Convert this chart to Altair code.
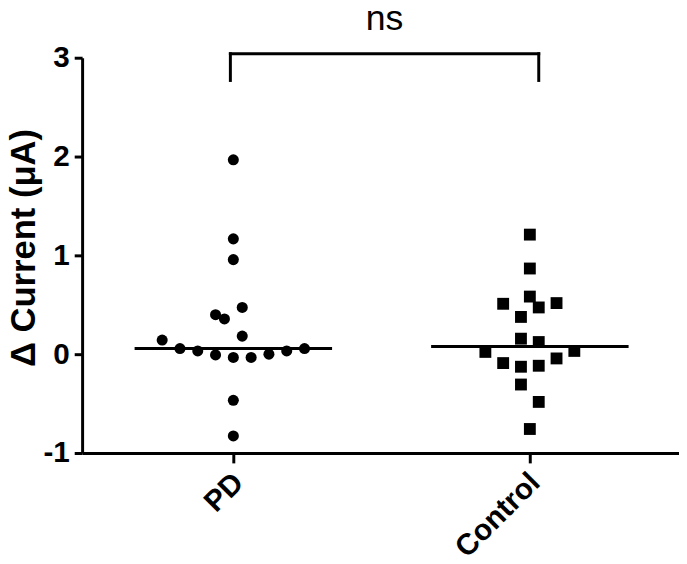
import altair as alt
import pandas as pd

# ---- data ----
groups = ["PD", "Control"]
pd_values = [1.967, 1.167, 0.957, 0.473, 0.40, 0.357, 0.183, 0.143, 0.057,
             0.033, -0.007, -0.033, -0.033, 0.0, 0.033, 0.057, -0.467, -0.827]
pd_cols = [0, 0, 0, 0.5, -1, -0.5, 0.5, -4, -3, -2, -1, 0, 1, 2, 3, 4, 0, 0]
ctrl_values = [1.21, 0.867, 0.583, 0.51, 0.473, 0.517, 0.377, 0.157, 0.123,
               0.023, 0.033, -0.09, -0.127, -0.117, -0.043, -0.307, -0.483, -0.757]
ctrl_cols = [0, 0, 0, -1.5, 0.5, 1.5, -0.5, -0.5, 0.5, -2.5, 2.5, -1.5, -0.5,
             0.5, 1.5, -0.5, 0.5, 0]
y_ticks = [-1, 0, 1, 2, 3]
sig_label = "ns"
y_title = "Δ Current (μA)"

FONT = "Liberation Sans"
COL_STEP = 0.06  # swarm column spacing in category units

df = pd.DataFrame({
    "gi": [0] * len(pd_values) + [1] * len(ctrl_values),
    "value": pd_values + ctrl_values,
    "col": pd_cols + ctrl_cols,
})

xs = alt.Scale(domain=[-0.51, 1.503], nice=False, zero=False)
ys = alt.Scale(domain=[y_ticks[0], y_ticks[-1]], nice=False, zero=False)

label_expr = "[" + ",".join(f"'{g}'" for g in groups) + "][datum.value]"
x_axis = alt.Axis(values=[0, 1], labelExpr=label_expr, labelAngle=-45,
                  labelAlign="right", labelBaseline="middle", labelFont=FONT,
                  labelFontSize=30, labelFontWeight="bold", labelColor="black",
                  labelPadding=15, labelOffset=5, labelOverlap=False,
                  labelBound=False, labelFlush=False,
                  tickSize=10, tickWidth=3, tickColor="black",
                  domainWidth=3, domainColor="black", grid=False, title=None)
y_axis = alt.Axis(values=y_ticks, labelExpr="'' + datum.value",
                  labelFont=FONT, labelFontSize=30,
                  labelFontWeight="bold", labelColor="black", labelPadding=5,
                  labelOverlap=False, labelFlush=False,
                  tickSize=8, tickWidth=3, tickColor="black",
                  domainWidth=3, domainColor="black", grid=False,
                  title=y_title, titleFont=FONT, titleFontSize=35,
                  titleFontWeight="bold", titleColor="black",
                  titleX=-48, titleY=192, titleAlign="center",
                  titleBaseline="alphabetic", titleAngle=-90)


def X(field):
    return alt.X(field, type="quantitative", scale=xs, axis=x_axis, title=None)


def Y(field):
    return alt.Y(field, type="quantitative", scale=ys, axis=y_axis, title=y_title)


base = alt.Chart(df).transform_calculate(xp=f"datum.gi + datum.col * {COL_STEP}")

circles = base.transform_filter("datum.gi == 0").mark_point(
    shape="circle", filled=True, color="black", opacity=1, size=125
).encode(x=X("xp"), y=Y("value"))

squares = base.transform_filter("datum.gi == 1").mark_point(
    shape="square", filled=True, color="black", opacity=1, size=144
).encode(x=X("xp"), y=Y("value"))

medians = alt.Chart(df).transform_aggregate(
    med="median(value)", groupby=["gi"]
).transform_calculate(
    x1="datum.gi - 0.333", x2="datum.gi + 0.333"
).mark_rule(color="black", strokeWidth=3).encode(
    x=X("x1"), x2="x2:Q", y=Y("med")
)

# significance bracket between the two groups
top = y_ticks[-1]
bracket_df = pd.DataFrame({
    "x": [-0.01, -0.01, 1.03],
    "x2": [1.03, -0.01, 1.03],
    "y": [top + 0.04, top - 0.23, top - 0.23],
    "y2": [top + 0.04, top + 0.04, top + 0.04],
})
bracket = alt.Chart(bracket_df).mark_rule(
    color="black", strokeWidth=3, strokeCap="square"
).encode(x=X("x"), x2="x2:Q", y=Y("y"), y2="y2:Q")

ns_df = pd.DataFrame({"x": [0.51], "y": [top + 0.28], "t": [sig_label]})
ns_text = alt.Chart(ns_df).mark_text(
    font=FONT, fontSize=36, color="black", baseline="alphabetic", align="center"
).encode(x=X("x"), y=Y("y"), text="t:N")

chart = alt.layer(bracket, medians, circles, squares, ns_text).properties(
    width=604, height=400,
    background="white",
    autosize=alt.AutoSizeParams(type="none"),
    padding={"left": 75, "top": 47, "right": 0, "bottom": 109},
).configure_view(strokeWidth=0, stroke="transparent")

chart.save("out.html", embed_options={"renderer": "svg", "actions": False})
